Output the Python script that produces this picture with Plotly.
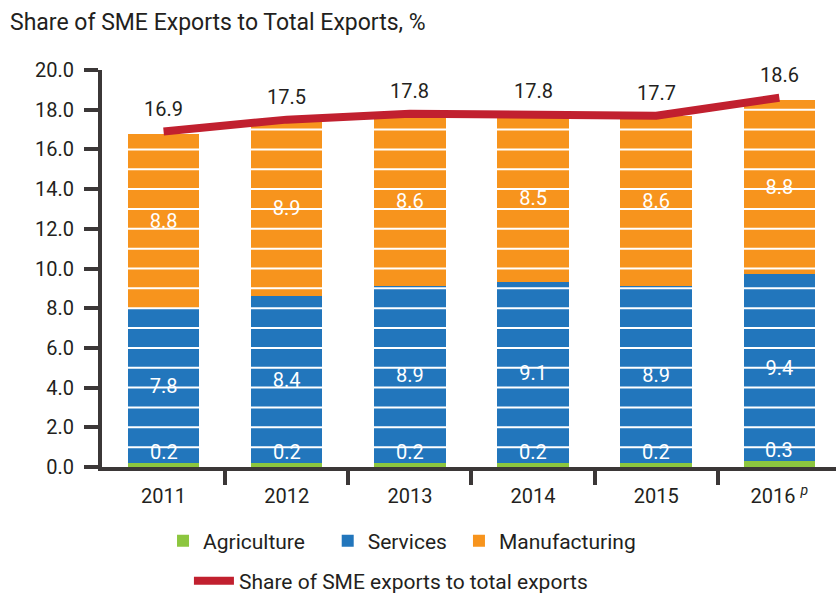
import plotly.graph_objects as go

# Share of SME exports to total exports, by sector (%)
years = ["2011", "2012", "2013", "2014", "2015", "2016"]
year_labels = ["2011", "2012", "2013", "2014", "2015", "2016 <sup><i>p</i></sup>"]
agriculture = [0.2, 0.2, 0.2, 0.2, 0.2, 0.3]
services = [7.8, 8.4, 8.9, 9.1, 8.9, 9.4]
manufacturing = [8.8, 8.9, 8.6, 8.5, 8.6, 8.8]
sme_share = [16.9, 17.5, 17.8, 17.8, 17.7, 18.6]

GREEN = "#8cc63f"
BLUE = "#2276bc"
ORANGE = "#f7941d"
RED = "#c1202f"
DARK = "#3b3737"
TEXT = "#231f20"
FONT = "Roboto, sans-serif"
LABEL_SIZE = 20

x = list(range(len(years)))
fig = go.Figure()

fig.add_trace(go.Bar(
    x=x, y=agriculture, name="Agriculture", marker=dict(color=GREEN, line_width=0),
    width=0.58, hoverinfo="skip", legend="legend",
))
fig.add_trace(go.Bar(
    x=x, y=services, name="Services", marker=dict(color=BLUE, line_width=0),
    width=0.58, text=[f"{v:.1f}" for v in services], textposition="inside",
    insidetextanchor="middle", textangle=0, constraintext="none",
    textfont=dict(color="white", size=LABEL_SIZE, family=FONT), legend="legend3",
))
fig.add_trace(go.Bar(
    x=x, y=manufacturing, name="Manufacturing", marker=dict(color=ORANGE, line_width=0),
    width=0.58, text=[f"{v:.1f}" for v in manufacturing], textposition="inside",
    insidetextanchor="middle", textangle=0, constraintext="none",
    textfont=dict(color="white", size=LABEL_SIZE, family=FONT), legend="legend4",
))

# White rules across the bars at every whole percent
gx, gy = [], []
for level in range(1, 21):
    gx += [-0.45, 5.6, None]
    gy += [level, level, None]
fig.add_trace(go.Scatter(
    x=gx, y=gy, mode="lines", line=dict(color="white", width=2),
    showlegend=False, hoverinfo="skip",
))

fig.add_trace(go.Scatter(
    x=x, y=sme_share, mode="lines", name="Share of SME exports to total exports",
    line=dict(color=RED, width=8), legend="legend2",
))

# Agriculture values sit just above the green segment
for i, v in enumerate(agriculture):
    fig.add_annotation(
        x=i, y=v, text=f"{v:.1f}", showarrow=False, yanchor="bottom", yshift=-3,
        font=dict(color="white", size=LABEL_SIZE, family=FONT),
    )
# Total share labels above the line
for i, v in enumerate(sme_share):
    fig.add_annotation(
        x=i, y=v, text=f"{v:.1f}", showarrow=False, yanchor="bottom", yshift=9,
        font=dict(color=TEXT, size=LABEL_SIZE, family=FONT),
    )

legend_common = dict(
    orientation="h", xanchor="left", yanchor="middle",
    xref="container", yref="container",
    font=dict(size=21, color=TEXT, family=FONT),
    itemclick=False, itemdoubleclick=False, bgcolor="rgba(0,0,0,0)",
)

fig.update_layout(
    width=836, height=596,
    margin=dict(l=102, r=0, t=70, b=129, autoexpand=False),
    paper_bgcolor="white", plot_bgcolor="white",
    barmode="stack",
    font=dict(family=FONT, color=TEXT, size=20),
    title=dict(
        text="Share of SME Exports to Total Exports, %",
        x=10 / 836, xref="container", xanchor="left",
        y=1 - 22 / 596, yref="container", yanchor="middle",
        font=dict(family=FONT, size=23, color=TEXT),
    ),
    legend=dict(legend_common, x=0.195, y=0.092),
    legend3=dict(legend_common, x=0.392, y=0.092),
    legend4=dict(legend_common, x=0.549, y=0.092),
    legend2=dict(legend_common, x=0.226, y=0.025, itemwidth=40),
    showlegend=True,
)

fig.update_xaxes(
    range=[-0.5, 5.46], tickvals=x, ticktext=year_labels, ticks="",
    showgrid=False, zeroline=False, showline=True, linecolor=DARK, linewidth=4,
    ticklabelstandoff=8,
    tickfont=dict(size=LABEL_SIZE, color=TEXT, family=FONT),
    minor=dict(tickvals=[i + 0.5 for i in x[:-1]], ticks="outside", ticklen=14,
               tickwidth=4, tickcolor=DARK, showgrid=False),
)
fig.update_yaxes(
    range=[0, 20], dtick=2, tickformat=".1f", ticks="outside", ticklen=14,
    tickwidth=4, tickcolor=DARK, showgrid=False, zeroline=False,
    showline=True, linecolor=DARK, linewidth=4, ticklabelstandoff=6,
    tickfont=dict(size=LABEL_SIZE, color=TEXT, family=FONT),
)

fig.write_html("out.html")
